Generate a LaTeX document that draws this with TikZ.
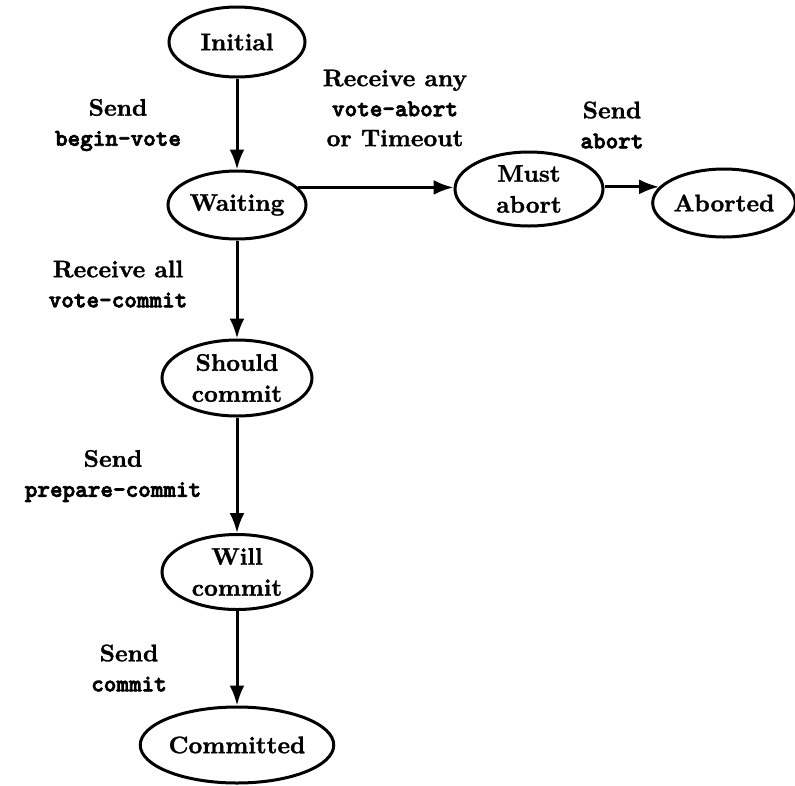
\documentclass[tikz,border=0pt]{standalone}
\usepackage{fontspec}
\usetikzlibrary{shapes.geometric,arrows.meta}
% heavy roman for state and label text, heavy typewriter for message names
\newfontfamily\statefont{lmroman10-bold.otf}[FakeBold=1.2]
\newfontfamily\msgfont{lmmonolt10-bold.otf}[FakeBold=3]
\newcommand{\msg}[1]{{\msgfont #1}}
\begin{document}
\begin{tikzpicture}[x=1pt,y=-1pt,
  state/.style={ellipse,draw,line width=3pt,inner sep=0pt,align=center,
    font=\fontsize{24}{31}\statefont},
  lbl/.style={align=center,inner sep=0pt,
    font=\fontsize{24}{30}\statefont},
  trans/.style={line width=3pt,-{Latex[length=20pt,width=15pt]}}]
  \useasboundingbox (0,0) rectangle (795,785);

  % states
  \node[state,minimum width=136pt,minimum height=70pt] (init) at (237,42) {Initial};
  \node[state,minimum width=138pt,minimum height=68pt] (wait) at (237,205) {Waiting};
  \node[state,minimum width=148pt,minimum height=74pt] (must) at (529,189) {Must\\abort};
  \node[state,minimum width=136pt,minimum height=68pt] (abtd) at (724,203) {Aborted};
  \node[state,minimum width=150pt,minimum height=76pt] (should) at (237,378) {Should\\commit};
  \node[state,minimum width=150pt,minimum height=75pt] (will) at (237,572) {Will\\commit};
  \node[state,minimum width=160pt,minimum height=76pt] (cmtd) at (237,745) {Committed};

  % transitions
  \draw[trans] (init) -- (wait);
  \draw[trans] (wait.16) -- (wait.16 -| must.west);
  \draw[trans] (abtd.166 -| must.east) -- (abtd.166);
  \draw[trans] (wait) -- (should);
  \draw[trans] (should) -- (will);
  \draw[trans] (will) -- (cmtd);

  % transition labels
  \node[lbl] (l1) at (118,125) {Send\\\msg{begin-vote}};
  \node[lbl] (l2) at (395,108) {Receive any\\\msg{vote-abort}\\or Timeout};
  \node[lbl] (l3) at (612,125) {Send\\\msg{abort}};
  \node[lbl] (l4) at (118,284) {Receive all\\\msg{vote-commit}};
  \node[lbl] (l5) at (113,476) {Send\\\msg{prepare-commit}};
  \node[lbl] (l6) at (129,668) {Send\\\msg{commit}};
\end{tikzpicture}
\end{document}
